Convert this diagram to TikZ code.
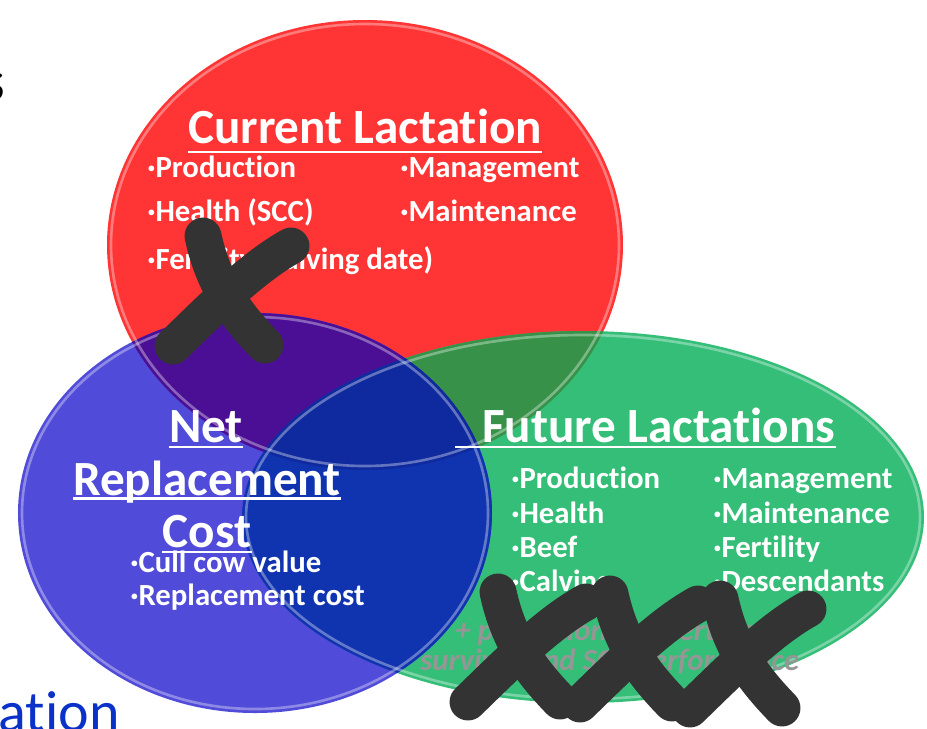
\documentclass[tikz,border=0pt]{standalone}
\usepackage{fontspec}
\setmainfont{Carlito}[RawFeature={-liga;-clig;-calt;-dlig}]
\usepackage{tikz}

\definecolor{redC}{RGB}{255,52,52}
\definecolor{blueC}{RGB}{80,75,216}
\definecolor{greenC}{RGB}{52,190,120}
\definecolor{redblueC}{RGB}{75,15,150}
\definecolor{redgreenC}{RGB}{55,145,72}
\definecolor{bluegreenC}{RGB}{16,52,176}
\definecolor{allC}{RGB}{14,42,158}
\definecolor{crossC}{RGB}{51,51,51}
\definecolor{noteC}{RGB}{150,150,150}
\definecolor{slideC}{RGB}{10,50,200}

\tikzset{
  title/.style={text=white, font=\fontsize{28}{30}\selectfont\bfseries, inner sep=0pt, anchor=base},
  item/.style={text=white, font=\fontsize{17.5}{20}\selectfont\bfseries, inner sep=0pt, anchor=base west},
  note/.style={text=noteC, font=\fontsize{17.5}{20}\selectfont\bfseries\itshape, inner sep=0pt, anchor=base west},
  uline/.style={white, line width=1.2pt},
  rim/.style={white, draw opacity=0.35, line width=1.5pt},
  crossline/.style={crossC, line width=21pt, line cap=round},
  xcross/.pic={
    \draw [crossline] (-30,-56) .. controls (-20,-10) and (0,20) .. (32,53);
    \draw [crossline] (58,-46) .. controls (20,-25) and (-20,15) .. (-60,54);
  }
}

\begin{document}
\begin{tikzpicture}[x=0.02cm, y=-0.02cm]
        \useasboundingbox (0,0) rectangle (927,728);
        \clip (0,0) rectangle (927,728);

        % the three circles
        \fill [redC]   (365,245) ellipse [x radius=258, y radius=225];   %current
        \fill [greenC] (583,517) ellipse [x radius=341, y radius=186];   %future
        \fill [blueC]  (255,513) ellipse [x radius=237, y radius=200];   %net
        \begin{scope}
          \clip (365,245) ellipse [x radius=258, y radius=225];
          \fill [redgreenC] (583,517) ellipse [x radius=341, y radius=186];
          \fill [redblueC]  (255,513) ellipse [x radius=237, y radius=200];
        \end{scope}
        \begin{scope}
          \clip (583,517) ellipse [x radius=341, y radius=186];
          \fill [bluegreenC] (255,513) ellipse [x radius=237, y radius=200];
          \clip (365,245) ellipse [x radius=258, y radius=225];
          \fill [allC] (255,513) ellipse [x radius=237, y radius=200];
        \end{scope}
        \draw [rim] (365,245) ellipse [x radius=254, y radius=221];
        \draw [rim] (583,517) ellipse [x radius=337, y radius=182];
        \draw [rim] (255,513) ellipse [x radius=233, y radius=196];

        % cut-off slide text
        \node [text=black, font=\fontsize{33}{36}\selectfont, inner sep=0pt, anchor=base east] (frag) at (6,100) {s};
        \node [text=slideC, font=\fontsize{33}{36}\selectfont, inner sep=0pt, anchor=base east] (ation) at (120,731) {ation};

        % current lactation
        \node [title] (cur) at (365,143) {Current Lactation};
        \draw [uline] ([yshift=-5pt]cur.base west) -- ([yshift=-5pt]cur.base east);
        \node [item] (curprod)   at (147,177) {·Production};
        \node [item] (curhealth) at (147,221) {·Health (SCC)};
        \node [item] (curfert)   at (147,269) {·Fertility (calving date)};
        \node [item] (curmgmt)   at (400,177) {·Management};
        \node [item] (curmaint)  at (400,221) {·Maintenance};

        % net replacement cost
        \node [title] (net)  at (206,442) {Net};
        \node [title] (repl) at (207,495) {Replacement};
        \node [title] (cost) at (207,547) {Cost};
        \draw [uline] ([yshift=-3pt]net.base west)  -- ([yshift=-3pt]net.base east);
        \draw [uline] ([yshift=-2pt]repl.base west) -- ([yshift=-2pt]repl.base east);
        \draw [uline] ([yshift=-3pt]cost.base west) -- ([yshift=-3pt]cost.base east);
        \node [item] (cull)     at (130,572) {·Cull cow value};
        \node [item] (replcost) at (130,605) {·Replacement cost};

        % future lactations
        \node [title, anchor=base west] (fut) at (482,442) {Future Lactations};
        \coordinate (futul) at (455,447);
        \draw [uline] (futul) -- (futul -| fut.east);
        \node [item] (futprod)   at (511,488) {·Production};
        \node [item] (futhealth) at (511,523) {·Health};
        \node [item] (futbeef)   at (511,557) {·Beef};
        \node [item] (futcalv)   at (511,591) {·Calving};
        \node [item] (futmgmt)   at (713,488) {·Management};
        \node [item] (futmaint)  at (713,523) {·Maintenance};
        \node [item] (futfert)   at (713,557) {·Fertility};
        \node [item] (futdesc)   at (713,591) {·Descendants};
        \node [note] (noteone) at (455,640) {+ predictions for fertility,};
        \node [note] (notetwo) at (420,670) {survival and SCC performance};

        % crossed out
        \pic at (233,292) {xcross};
        \pic at (528,648) {xcross};
        \pic at (640,650) {xcross};
        \pic at (750,655) {xcross};
\end{tikzpicture}
\end{document}
